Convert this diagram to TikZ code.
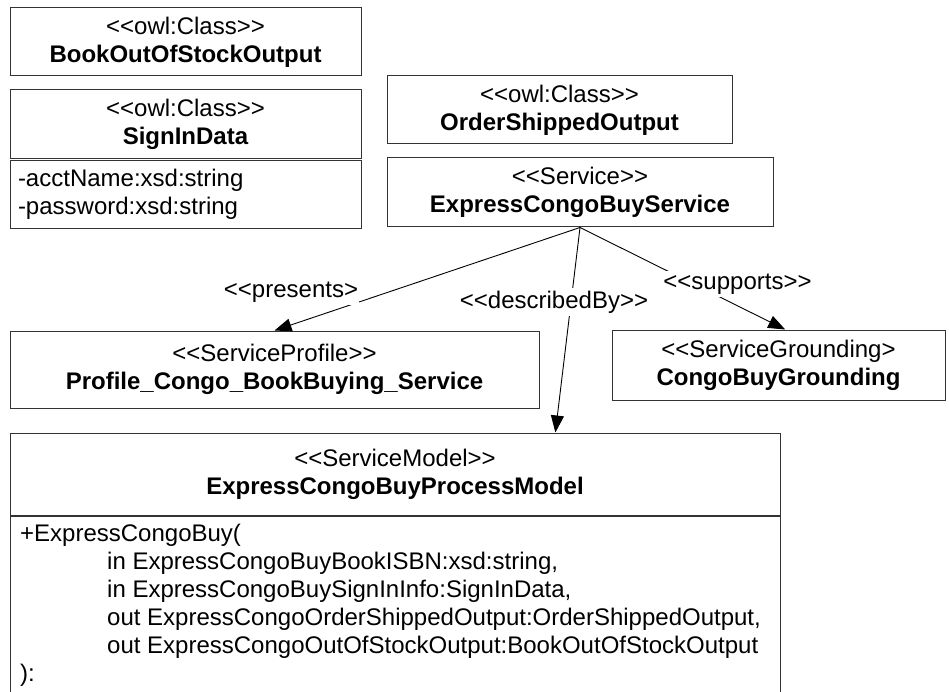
\documentclass[tikz,border=0pt]{standalone}
\usepackage{fontspec}
\newfontfamily\umlfont{Liberation Sans}
\usetikzlibrary{arrows.meta,calc}
\begin{document}
\begin{tikzpicture}[x=1pt,y=-1pt,
  every node/.style={font=\umlfont\fontsize{24}{28}\selectfont},
  umlbox/.style={draw=black!80, line width=1pt, rectangle, inner sep=0pt, align=center},
  compbox/.style={draw=black!80, line width=1pt, rectangle, inner xsep=8pt, inner ysep=0pt, align=left},
  lbl/.style={fill=white, inner xsep=1pt, inner ysep=3pt},
  conn/.style={draw=black, line width=0.9pt, -{Triangle[length=17pt,width=13pt]}}]
\useasboundingbox (0,0) rectangle (949,692);
\clip (0,0) rectangle (949,692);
\fill[white] (0,0) rectangle (949,692);

% left column
\node[umlbox, minimum width=351pt, minimum height=68pt] (book) at (185.5,42)
  {<<owl:Class>>\\\textbf{BookOutOfStockOutput}};
\node[umlbox, minimum width=351pt, minimum height=69pt] (signhead) at (185.5,124.5)
  {<<owl:Class>>\\\textbf{SignInData}};
\node[compbox, text width=335pt, minimum height=68pt] (signbody) at (185.5,194.5)
  {-acctName:xsd:string\\-password:xsd:string};

% right column
\node[umlbox, minimum width=345pt, minimum height=68pt] (order) at (559.5,110)
  {<<owl:Class>>\\\textbf{OrderShippedOutput}};
\node[umlbox, minimum width=386pt, minimum height=69pt] (service) at (580,192.5)
  {<<Service>>\\\textbf{ExpressCongoBuyService}};

% middle row
\node[umlbox, minimum width=529pt, minimum height=77pt] (profile) at (274.5,369.5)
  {<<ServiceProfile>>\\\textbf{Profile\_Congo\_BookBuying\_Service}};
\node[umlbox, minimum width=333pt, minimum height=70pt] (ground) at (778.5,365)
  {<<ServiceGrounding>\\\textbf{CongoBuyGrounding}};

% service model
\node[umlbox, minimum width=770pt, minimum height=82pt] (modelhead) at (395,474)
  {<<ServiceModel>>\\\textbf{ExpressCongoBuyProcessModel}};
\node[umlbox, minimum width=770pt, minimum height=245pt, anchor=north] (modelbody) at (modelhead.south) {};
\node[inner sep=0pt, align=left, anchor=north west] (modelops) at (20,523.5)
  {+ExpressCongoBuy(\\
   \hspace*{87pt}in ExpressCongoBuyBookISBN:xsd:string,\\
   \hspace*{87pt}in ExpressCongoBuySignInInfo:SignInData,\\
   \hspace*{87pt}out ExpressCongoOrderShippedOutput:OrderShippedOutput,\\
   \hspace*{87pt}out ExpressCongoOutOfStockOutput:BookOutOfStockOutput\\
   ):};

% connectors
\draw[conn] (service.south) -- (profile.north);
\draw[conn] (service.south) -- ($(modelhead.north west)!0.708!(modelhead.north east)$);
\draw[conn] (service.south) -- ($(ground.north west)!0.52!(ground.north east)$);

% labels
\node[lbl] (lpresents) at (291,292) {<<presents>};
\node[lbl] (ldescribed) at (554,302) {<<describedBy>>};
\node[lbl] (lsupports) at (737.5,284) {<<supports>>};
\end{tikzpicture}
\end{document}
